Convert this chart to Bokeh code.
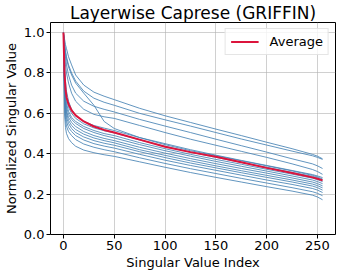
from bokeh.plotting import figure
from bokeh.models import Range1d, FixedTicker, Legend, LegendItem
from bokeh.embed import file_html
from bokeh.resources import INLINE

# singular value indices at which values were read
idx = [0, 1, 2, 3, 5, 8, 12, 20, 30, 40, 50, 75, 100, 125, 150, 175, 200, 225, 245, 250, 255]

layer_a = [1.0, 0.97, 0.94, 0.92, 0.88, 0.84, 0.79, 0.74, 0.705, 0.685, 0.668, 0.625, 0.588, 0.555, 0.522, 0.49, 0.457, 0.425, 0.397, 0.388, 0.375]
layer_b = [1.0, 0.95, 0.91, 0.88, 0.84, 0.80, 0.76, 0.71, 0.675, 0.655, 0.64, 0.60, 0.568, 0.537, 0.505, 0.473, 0.443, 0.413, 0.39, 0.382, 0.372]
layer_c = [1.0, 0.93, 0.88, 0.84, 0.79, 0.74, 0.70, 0.66, 0.635, 0.62, 0.607, 0.57, 0.537, 0.505, 0.472, 0.44, 0.408, 0.375, 0.35, 0.34, 0.327]
layer_d = [1.0, 0.90, 0.84, 0.80, 0.75, 0.70, 0.66, 0.62, 0.595, 0.583, 0.575, 0.54, 0.505, 0.472, 0.442, 0.412, 0.382, 0.35, 0.322, 0.312, 0.298]
layer_e = [1.0, 0.94, 0.90, 0.87, 0.83, 0.79, 0.75, 0.70, 0.64, 0.56, 0.525, 0.48, 0.445, 0.415, 0.39, 0.365, 0.34, 0.315, 0.293, 0.285, 0.275]
layer_f = [1.0, 0.85, 0.76, 0.71, 0.66, 0.62, 0.59, 0.56, 0.54, 0.527, 0.515, 0.48, 0.45, 0.42, 0.393, 0.367, 0.342, 0.317, 0.297, 0.29, 0.282]
layer_g = [1.0, 0.82, 0.73, 0.68, 0.63, 0.60, 0.575, 0.548, 0.528, 0.514, 0.503, 0.468, 0.437, 0.408, 0.382, 0.357, 0.333, 0.308, 0.288, 0.28, 0.27]
layer_h = [1.0, 0.80, 0.70, 0.65, 0.61, 0.58, 0.56, 0.535, 0.515, 0.50, 0.49, 0.455, 0.425, 0.397, 0.372, 0.348, 0.323, 0.299, 0.279, 0.272, 0.262]
layer_i = [1.0, 0.78, 0.68, 0.63, 0.595, 0.57, 0.55, 0.525, 0.505, 0.49, 0.478, 0.445, 0.415, 0.388, 0.362, 0.338, 0.314, 0.29, 0.27, 0.262, 0.252]
layer_j = [1.0, 0.76, 0.66, 0.61, 0.58, 0.555, 0.535, 0.51, 0.49, 0.476, 0.465, 0.432, 0.403, 0.376, 0.351, 0.327, 0.304, 0.28, 0.26, 0.252, 0.241]
layer_k = [1.0, 0.74, 0.64, 0.60, 0.565, 0.54, 0.52, 0.497, 0.478, 0.465, 0.454, 0.42, 0.392, 0.365, 0.34, 0.316, 0.293, 0.27, 0.25, 0.242, 0.231]
layer_l = [1.0, 0.72, 0.62, 0.58, 0.55, 0.525, 0.505, 0.483, 0.465, 0.452, 0.442, 0.41, 0.381, 0.354, 0.33, 0.306, 0.283, 0.26, 0.24, 0.232, 0.22]
layer_m = [1.0, 0.70, 0.60, 0.56, 0.53, 0.51, 0.49, 0.468, 0.45, 0.438, 0.428, 0.397, 0.368, 0.342, 0.318, 0.294, 0.27, 0.248, 0.228, 0.22, 0.208]
layer_n = [1.0, 0.66, 0.57, 0.535, 0.51, 0.49, 0.47, 0.448, 0.432, 0.42, 0.41, 0.38, 0.352, 0.326, 0.302, 0.278, 0.255, 0.232, 0.212, 0.204, 0.192]
layer_o = [1.0, 0.60, 0.53, 0.50, 0.475, 0.455, 0.437, 0.418, 0.405, 0.395, 0.387, 0.36, 0.333, 0.307, 0.283, 0.26, 0.237, 0.215, 0.195, 0.186, 0.172]

average = [1.0, 0.80, 0.72, 0.68, 0.645, 0.615, 0.59, 0.56, 0.535, 0.518, 0.505, 0.47, 0.435, 0.408, 0.385, 0.358, 0.33, 0.305, 0.283, 0.276, 0.268]

layers = [layer_a, layer_b, layer_c, layer_d, layer_e, layer_f, layer_g, layer_h,
          layer_i, layer_j, layer_k, layer_l, layer_m, layer_n, layer_o]

x_ticks = [0, 50, 100, 150, 200, 250]
y_ticks = [0.0, 0.2, 0.4, 0.6, 0.8, 1.0]

FONT = "DejaVu Sans"

p = figure(frame_width=285, frame_height=212, output_backend="svg", toolbar_location=None,
           x_range=Range1d(-12.75, 267.75), y_range=Range1d(0, 1.05),
           min_border_left=40, min_border_right=6, min_border_top=0, min_border_bottom=33,
           title="Layerwise Caprese (GRIFFIN)")

p.title.text_font = FONT
p.title.text_font_size = "17px"
p.title.text_font_style = "normal"
p.title.align = "center"
p.title.text_color = "black"
p.title.standoff = 0
p.title.offset = 0

for ys in layers:
    p.line(idx, ys, line_color="#4682b4", line_alpha=0.85, line_width=1)

avg = p.line(idx, average, line_color="#dc143c", line_width=2)

legend = Legend(items=[LegendItem(label="Average", renderers=[avg])], location="top_right")
legend.label_text_font = FONT
legend.label_text_font_size = "13px"
legend.label_text_color = "black"
legend.border_line_color = "#cccccc"
legend.background_fill_alpha = 0.8
legend.margin = 6
legend.padding = 5
legend.glyph_width = 28
legend.glyph_height = 15
legend.label_standoff = 11
legend.label_height = 15
p.add_layout(legend)

p.outline_line_color = "black"
p.outline_line_width = 1
p.outline_line_alpha = 1

for ax in (p.xaxis[0], p.yaxis[0]):
    ax.axis_line_color = None
    ax.major_tick_line_color = "black"
    ax.major_tick_out = 4
    ax.major_tick_in = 0
    ax.minor_tick_line_color = None
    ax.major_label_text_font = FONT
    ax.major_label_text_font_size = "13px"
    ax.major_label_text_color = "black"
    ax.axis_label_text_font = FONT
    ax.axis_label_text_font_size = "13px"
    ax.axis_label_text_font_style = "normal"
    ax.axis_label_text_color = "black"
    ax.major_label_standoff = 2
    ax.axis_label_standoff = 2

p.xaxis.ticker = FixedTicker(ticks=x_ticks)
p.yaxis.ticker = FixedTicker(ticks=y_ticks)
p.yaxis.major_label_overrides = {t: f"{t:.1f}" for t in y_ticks}
p.xaxis.axis_label = "Singular Value Index"
p.yaxis.axis_label = "Normalized Singular Value"

p.xgrid.ticker = FixedTicker(ticks=x_ticks)
p.ygrid.ticker = FixedTicker(ticks=y_ticks)
for g in (p.xgrid[0], p.ygrid[0]):
    g.grid_line_color = "#b0b0b0"
    g.grid_line_alpha = 0.6
    g.grid_line_width = 1

open("out.html", "w").write(file_html(p, INLINE))
